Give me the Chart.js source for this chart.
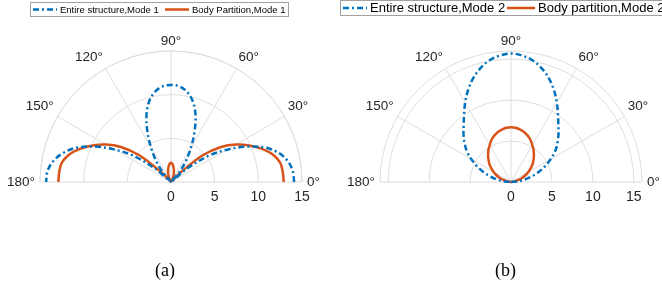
<!DOCTYPE html>
<html lang="en">
  <head>
    <meta charset="UTF-8" />
    <title>Polar patterns</title>
    <script src="https://cdn.jsdelivr.net/npm/chart.js"></script>
    <style>
      body { margin: 0; background: #fff; }
      #wrap { position: relative; width: 662px; height: 284px; overflow: hidden; }
      canvas { position: absolute; top: 0; }
      .cap { position: absolute; top: 260px; font: 18px "Liberation Serif", "Times New Roman", serif; color: #000; }
    </style>
  </head>
  <body>
    <div id="wrap">
      <canvas id="chartA" width="331" height="284" style="left:0"></canvas>
      <canvas id="chartB" width="331" height="284" style="left:331px"></canvas>
      <div class="cap" style="left:155px">(a)</div>
      <div class="cap" style="left:495px">(b)</div>
    </div>

    <script>
      // angles in degrees
      const angles = [0, 5, 10, 15, 20, 25, 30, 35, 40, 45, 50, 55, 60, 65, 70, 75, 80, 85, 90,
        95, 100, 105, 110, 115, 120, 125, 130, 135, 140, 145, 150, 155, 160, 165, 170, 175, 180];

      // mode 1 (a)
      const entireMode1 = [14.1, 14.0, 13.6, 12.8, 11.5, 9.6, 7.4, 5.2, 2.3, 0.1, 1.5, 3.0, 4.6, 6.4, 8.2, 9.6, 10.5, 11.0, 11.1,
        11.0, 10.5, 9.6, 8.2, 6.4, 4.6, 3.0, 1.5, 0.1, 2.3, 5.2, 7.4, 9.6, 11.5, 12.8, 13.7, 14.2, 14.3];
      const bodyMode1 = [12.9, 12.85, 12.7, 12.1, 11.1, 9.9, 8.6, 7.0, 4.8, 1.6, 0.2, 0.1, 0.2, 0.5, 0.9, 1.3, 1.7, 2.05, 2.2,
        2.05, 1.7, 1.3, 0.9, 0.5, 0.2, 0.1, 0.2, 1.6, 4.8, 7.0, 8.6, 9.9, 11.1, 12.1, 12.7, 12.85, 12.9];

      // mode 2 (b)
      const entireMode2 = [0, 0.8, 1.7, 2.6, 3.6, 4.6, 5.6, 6.6, 7.4, 8.2, 9.0, 10.0, 11.2, 12.4, 13.5, 14.4, 15.1, 15.5, 15.7,
        15.5, 15.1, 14.4, 13.5, 12.4, 11.2, 10.0, 9.0, 8.2, 7.4, 6.6, 5.6, 4.6, 3.6, 2.6, 1.7, 0.8, 0];
      const bodyMode2 = [0, 0.2, 0.5, 0.95, 1.45, 1.95, 2.45, 2.95, 3.45, 3.9, 4.35, 4.8, 5.2, 5.65, 6.0, 6.3, 6.5, 6.65, 6.7,
        6.65, 6.5, 6.3, 6.0, 5.65, 5.2, 4.8, 4.35, 3.9, 3.45, 2.95, 2.45, 1.95, 1.45, 0.95, 0.5, 0.2, 0];

      const radialTicks = [0, 5, 10, 15];
      const angleTicks = [0, 30, 60, 90, 120, 150, 180];

      const BLUE = '#0072BD';
      const ORANGE = '#D95319';
      const GRID = '#dedede';
      const TEXT = '#262626';
      const DASH = [6, 3, 2, 3];

      function toXY(r) {
        return angles.map((a, i) => ({
          x: r[i] * Math.cos(a * Math.PI / 180),
          y: r[i] * Math.sin(a * Math.PI / 180)
        }));
      }

      // polar grid + labels, drawn with the chart's own scales
      const polarGrid = {
        id: 'polarGrid',
        beforeDatasetsDraw(chart, args, opts) {
          const ctx = chart.ctx;
          const sx = chart.scales.x, sy = chart.scales.y;
          const cx = sx.getPixelForValue(0), cy = sy.getPixelForValue(0);
          const R = sx.getPixelForValue(opts.rmax) - cx;
          ctx.save();
          ctx.strokeStyle = GRID;
          ctx.lineWidth = 1;
          const rings = radialTicks.filter(v => v > 0).concat(opts.rmax);
          rings.forEach(v => {
            const rp = sx.getPixelForValue(v) - cx;
            ctx.beginPath();
            ctx.arc(cx, cy, rp, Math.PI, 2 * Math.PI);
            ctx.stroke();
          });
          angleTicks.forEach(a => {
            const t = a * Math.PI / 180;
            ctx.beginPath();
            ctx.moveTo(cx, cy);
            ctx.lineTo(cx + R * Math.cos(t), cy - R * Math.sin(t));
            ctx.stroke();
          });

          ctx.fillStyle = TEXT;
          ctx.font = '13.5px "Liberation Sans", Arial, sans-serif';
          ctx.textBaseline = 'middle';
          // small nudges so labels sit like matlab's polaraxes
          const nudge = { 30: [-7, -3], 60: [-4, 0], 90: [0, 3], 120: [3.5, 0], 150: [6.5, -3] };
          angleTicks.forEach(a => {
            const t = a * Math.PI / 180;
            if (a === 0) {
              ctx.textAlign = 'left';
              ctx.fillText('0°', cx + R + 5, cy);
            } else if (a === 180) {
              ctx.textAlign = 'right';
              ctx.fillText('180°', cx - R - 5, cy);
            } else {
              const d = R + 12;
              const n = nudge[a];
              ctx.textAlign = a < 90 ? 'left' : (a > 90 ? 'right' : 'center');
              ctx.fillText(a + '°', cx + d * Math.cos(t) + n[0], cy - d * Math.sin(t) + n[1] - 1);
            }
          });
          ctx.font = '14px "Liberation Sans", Arial, sans-serif';
          ctx.textAlign = 'center';
          radialTicks.forEach(v => {
            ctx.fillText(String(v), sx.getPixelForValue(v), cy + 15);
          });
          ctx.restore();
        },
        afterDraw(chart, args, opts) {
          const ctx = chart.ctx;
          const L = opts.legend;
          ctx.save();
          ctx.strokeStyle = '#a0a0a0';
          ctx.lineWidth = 1;
          ctx.fillStyle = '#fff';
          ctx.fillRect(L.x, L.y, L.w, L.h);
          ctx.strokeRect(L.x, L.y, L.w, L.h);
          ctx.font = L.font + 'px "Liberation Sans", Arial, sans-serif';
          ctx.textBaseline = 'middle';
          ctx.textAlign = 'left';
          const my = L.y + L.h / 2;
          chart.data.datasets.forEach((ds, i) => {
            const it = L.items[i];
            ctx.strokeStyle = ds.borderColor;
            ctx.lineWidth = 2.5;
            ctx.setLineDash(ds.borderDash || []);
            ctx.beginPath();
            ctx.moveTo(it.x0, my);
            ctx.lineTo(it.x1, my);
            ctx.stroke();
            ctx.setLineDash([]);
            ctx.fillStyle = '#000';
            ctx.fillText(ds.label, it.x1 + 3, my + 0.5);
          });
          ctx.restore();
        }
      };

      function makeChart(id, sets, rmax, pad, legend) {
        return new Chart(document.getElementById(id).getContext('2d'), {
          type: 'scatter',
          data: {
            datasets: sets.map(s => ({
              label: s.label,
              data: toXY(s.r),
              showLine: true,
              borderColor: s.color,
              borderWidth: 2.5,
              borderDash: s.dash,
              pointRadius: 0,
              tension: 0.35,
              clip: false
            }))
          },
          options: {
            responsive: false,
            animation: false,
            layout: { padding: pad },
            scales: {
              x: { type: 'linear', min: -rmax, max: rmax, display: false },
              y: { type: 'linear', min: 0, max: rmax, display: false }
            },
            plugins: {
              legend: { display: false },
              tooltip: { enabled: false },
              polarGrid: { rmax: rmax, legend: legend }
            }
          },
          plugins: [polarGrid]
        });
      }

      makeChart('chartA', [
        { label: 'Entire structure,Mode 1', r: entireMode1, color: BLUE, dash: DASH },
        { label: 'Body Partition,Mode 1', r: bodyMode1, color: ORANGE, dash: [] }
      ], 15, { left: 40, right: 29, top: 51, bottom: 102 },
      { x: 30.5, y: 2.5, w: 258, h: 14, font: 9.5,
        items: [{ x0: 33, x1: 57 }, { x0: 165, x1: 189 }] });

      makeChart('chartB', [
        { label: 'Entire structure,Mode 2', r: entireMode2, color: BLUE, dash: DASH },
        { label: 'Body partition,Mode 2', r: bodyMode2, color: ORANGE, dash: [] }
      ], 16, { left: 49, right: 20, top: 51, bottom: 102 },
      { x: 9.5, y: 0.5, w: 400, h: 15, font: 13,
        items: [{ x0: 12, x1: 36 }, { x0: 176, x1: 204 }] });
    </script>
  </body>
</html>
